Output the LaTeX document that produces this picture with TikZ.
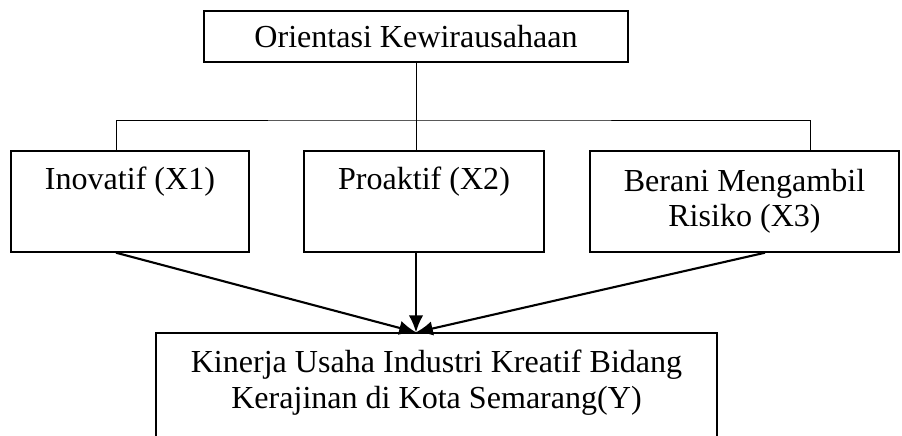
\documentclass[tikz,border=0pt]{standalone}
\usepackage{fontspec}
\setmainfont{Liberation Serif}
\usetikzlibrary{arrows.meta}
\begin{document}
\begin{tikzpicture}[x=0.025cm, y=-0.025cm,
  every node/.style={font=\fontsize{22.8}{25}\selectfont, align=center},
  kotak/.style={draw, line width=1pt, rectangle, inner sep=0pt},
  garis/.style={line width=0.7pt},
  panah/.style={line width=1.5pt, -{Latex[length=4.2mm,width=3.6mm]}}]
\clip (0,0) rectangle (902,435);
\node[kotak, line width=1.6pt, minimum width=10.6cm, minimum height=1.275cm] (ok) at (416,36.5) {Orientasi Kewirausahaan};
\node[kotak, minimum width=5.95cm, minimum height=2.525cm] (x1) at (130,201.5) {Inovatif (X1)\\ \strut};
\node[kotak, minimum width=6cm, minimum height=2.525cm] (x2) at (424,201.5) {Proaktif (X2)\\ \strut};
\node[kotak, minimum width=7.725cm, minimum height=2.525cm] (x3) at (744.5,201.5) {Berani Mengambil\\ Risiko (X3)};
\node[kotak, minimum width=14.025cm, minimum height=3.45cm] (y) at (436.5,402) {Kinerja Usaha Industri Kreatif Bidang\\ Kerajinan di Kota Semarang(Y)\\ \strut};
% cabang
\coordinate (cab) at (416,120);
\coordinate (c1) at (116,0);
\coordinate (c3) at (810,0);
\draw[garis] (ok.south) -- (cab);
\draw[garis] (x1.north -| c1) |- (cab) -| (x3.north -| c3);
\draw[garis] (cab) -- (x2.north -| cab);
% panah
\coordinate (tuju) at (416,0);
\coordinate (p3) at (765,0);
\draw[panah] (x1.south -| c1) -- (y.north -| tuju);
\draw[panah] (x2.south -| tuju) -- (y.north -| tuju);
\draw[panah] (x3.south -| p3) -- (y.north -| tuju);
\end{tikzpicture}
\end{document}
